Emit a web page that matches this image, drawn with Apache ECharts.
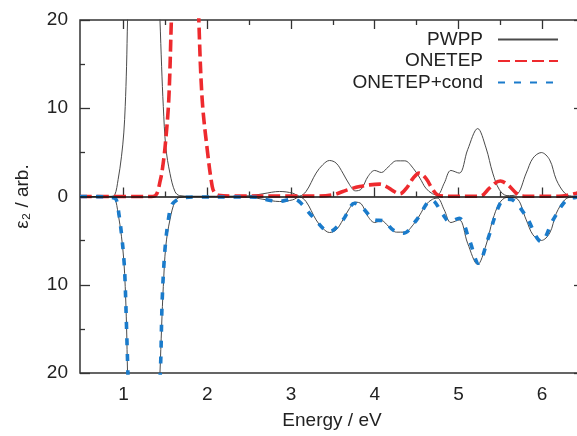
<!DOCTYPE html>
<html>
<head>
<meta charset="utf-8">
<script src="https://cdn.jsdelivr.net/npm/echarts@6/dist/echarts.min.js"></script>
<style>
html,body{margin:0;padding:0;background:#fff;}
#chart{width:577px;height:436px;}
</style>
</head>
<body>
<div id="chart"></div>
<script>
// ---- data ----
const seriesNames = ['PWPP', 'ONETEP', 'ONETEP+cond'];
const xMajorTicks = [1, 2, 3, 4, 5, 6];
const xMinorTicks = [1.5, 2.5, 3.5, 4.5, 5.5];
const yTickValues = [-20, -10, 0, 10, 20];

const pwppX = [0.48, 0.7, 0.85, 0.895, 0.935, 0.975, 1.003, 1.02, 1.036, 1.048, 1.08, 1.15, 1.24, 1.33, 1.40, 1.435, 1.455, 1.475, 1.505, 1.555, 1.615, 1.67, 1.8, 2.2, 2.5, 2.665, 2.864, 3.02, 3.10, 3.18, 3.30, 3.38, 3.46, 3.54, 3.62, 3.70, 3.77, 3.84, 3.92, 4.0, 4.08, 4.16, 4.26, 4.36, 4.46, 4.54, 4.61, 4.69, 4.75, 4.83, 4.91, 5.01, 5.11, 5.23, 5.33, 5.41, 5.49, 5.58, 5.69, 5.81, 5.89, 5.99, 6.09, 6.17, 6.27, 6.35, 6.5];
const pwppY = [0, 0, 0.02, 0.17, 1.9, 4.5, 7.2, 10.2, 14.7, 20, 30, 45, 50, 45, 28, 20, 14.7, 10.2, 5.6, 2.6, 0.55, 0.1, 0.03, 0.03, 0.08, 0.31, 0.57, 0.38, 0.05, 0.57, 2.65, 3.6, 4.08, 3.78, 2.65, 1.33, 0.64, 0.84, 2.27, 2.95, 2.72, 3.33, 4.04, 4.04, 3.2, 2.08, 0.95, 0.31, 0.19, 1.5, 2.95, 2.65, 5.3, 7.7, 5.5, 2.65, 0.76, 0.1, 0.19, 2.65, 4.34, 4.98, 4.15, 1.89, 0.38, 0.05, 0];

const onetepX = [0.48, 1.3, 1.38, 1.44, 1.47, 1.5, 1.54, 1.57, 1.61, 1.7, 1.8, 1.87, 1.9, 1.94, 2.0, 2.06, 2.09, 2.13, 2.3, 3.0, 3.3, 3.5, 3.62, 3.70, 3.82, 3.94, 4.06, 4.14, 4.22, 4.30, 4.38, 4.46, 4.53, 4.61, 4.69, 4.75, 4.89, 5.2, 5.28, 5.37, 5.5, 5.59, 5.69, 5.75, 5.9, 6.2, 6.33, 6.41, 6.5];
const onetepY = [0, 0, 0.1, 1.87, 3.5, 6.0, 10.9, 19.6, 32, 50, 50, 30, 19.8, 10.9, 5.3, 1.1, 0.4, 0.15, 0.05, 0.05, 0.05, 0.19, 0.57, 0.83, 1.13, 1.32, 1.4, 1.13, 0.64, 0.3, 0.95, 2.08, 2.65, 2.08, 0.83, 0.19, 0.02, 0.02, 0.1, 0.95, 1.75, 1.32, 0.38, 0.08, 0.02, 0.02, 0.19, 0.38, 0.6];

const condX = [0.48, 0.8, 0.88, 0.915, 0.945, 0.975, 1.005, 1.018, 1.038, 1.05, 1.08, 1.15, 1.24, 1.33, 1.40, 1.442, 1.462, 1.495, 1.535, 1.575, 1.635, 1.7, 1.9, 2.4, 2.6, 2.7, 2.86, 3.02, 3.10, 3.26, 3.46, 3.62, 3.76, 3.86, 4.0, 4.10, 4.22, 4.34, 4.50, 4.68, 4.82, 4.89, 5.01, 5.13, 5.24, 5.35, 5.45, 5.53, 5.59, 5.65, 5.81, 5.99, 6.13, 6.29, 6.4, 6.5];
const condY = [0, -0.05, -0.15, -0.4, -2.0, -4.2, -7.2, -9.5, -15.5, -19.3, -30, -45, -50, -45, -28, -19.3, -11.7, -6.0, -2.66, -0.96, -0.4, -0.15, -0.05, -0.05, -0.1, -0.35, -0.55, -0.3, -0.59, -2.3, -3.98, -2.66, -0.77, -1.34, -2.66, -2.74, -3.79, -4.17, -2.66, -0.4, -2.1, -2.85, -2.47, -4.9, -7.57, -4.9, -1.9, -0.4, -0.3, -0.4, -2.28, -5.1, -2.66, -0.4, -0.1, 0];

// ---- build ----
function zip(xs, ys) { return xs.map((x, i) => [x, ys[i]]); }
const pwppUpper = zip(pwppX, pwppY);
const pwppLower = zip(pwppX, pwppY.map(v => -v));
const onetep = zip(onetepX, onetepY);
const cond = zip(condX, condY);

const FONT = "'Liberation Sans', Arial, Helvetica, sans-serif";
const TXT = '#222';
const AX = '#333';
const X_MIN = 0.48, X_MAX = 6.5;

function xAx(pos, ticks, len, labels, extra) {
  return Object.assign({
    type: 'value', position: pos, min: X_MIN, max: X_MAX,
    axisLine: { show: false },
    splitLine: { show: false },
    axisTick: { show: true, inside: true, length: len, customValues: ticks, lineStyle: { color: AX, width: 1.3 } },
    axisLabel: labels ? { show: true, customValues: ticks, margin: 12, color: TXT, fontSize: 19, fontFamily: FONT } : { show: false }
  }, extra || {});
}
function yAx(pos, labels, extra) {
  return Object.assign({
    type: 'value', position: pos, min: -20, max: 20, interval: 10,
    axisLine: { show: false },
    splitLine: { show: false },
    axisTick: { show: true, inside: true, length: 10, lineStyle: { color: AX, width: 1.3 } },
    minorTick: { show: true, splitNumber: 2, length: 5, lineStyle: { color: AX, width: 1.3 } },
    axisLabel: labels ? { show: true, margin: 12, color: TXT, fontSize: 19, fontFamily: FONT,
      formatter: v => String(Math.abs(v)) } : { show: false }
  }, extra || {});
}

const chart = echarts.init(document.getElementById('chart'), null, { renderer: 'canvas' });
chart.setOption({
  animation: false,
  backgroundColor: '#fff',
  grid: { left: 80, top: 20, width: 504, height: 353, outerBoundsMode: 'none', containLabel: false,
          show: true, borderColor: AX, borderWidth: 1.5, backgroundColor: 'transparent' },
  legend: {
    data: seriesNames,
    orient: 'vertical', align: 'right',
    right: 13, top: 25,
    itemWidth: 60, itemHeight: 14, itemGap: 2.5,
    itemStyle: { opacity: 0 },
    textStyle: { fontSize: 19, lineHeight: 18, color: TXT, fontFamily: FONT, padding: [0, 10, 0, 0] }
  },
  xAxis: [
    xAx('bottom', xMajorTicks, 9, true, {
      name: 'Energy / eV', nameLocation: 'middle', nameGap: 38,
      nameTextStyle: { fontSize: 19, color: TXT, fontFamily: FONT }
    }),
    xAx('bottom', xMinorTicks, 5, false),
    xAx('top', xMajorTicks, 9, false),
    xAx('top', xMinorTicks, 5, false)
  ],
  yAxis: [
    yAx('left', true, {
      name: 'ε₂ / arb.', nameLocation: 'middle', nameGap: 48, nameRotate: 90,
      nameTextStyle: { fontSize: 19, color: TXT, fontFamily: FONT }
    }),
    yAx('right', false)
  ],
  series: [
    {
      name: 'PWPP', type: 'line', data: pwppUpper, xAxisIndex: 0, yAxisIndex: 0,
      symbol: 'none', smooth: 0.35, clip: true,
      lineStyle: { color: '#4a4a4a', width: 1 }, itemStyle: { color: '#4a4a4a' },
      markLine: {
        silent: true, symbol: ['none', 'none'], label: { show: false },
        lineStyle: { color: '#111', width: 1.5, type: 'solid' },
        data: [{ yAxis: 0 }]
      },
      z: 2
    },
    {
      name: 'PWPP', type: 'line', data: pwppLower, xAxisIndex: 0, yAxisIndex: 0,
      symbol: 'none', smooth: 0.35, clip: true,
      lineStyle: { color: '#4a4a4a', width: 1 }, itemStyle: { color: '#4a4a4a' }, z: 2
    },
    {
      name: 'ONETEP', type: 'line', data: onetep, xAxisIndex: 0, yAxisIndex: 0,
      symbol: 'none', smooth: 0.35, clip: true,
      lineStyle: { color: '#ee2a2e', width: 3.6, type: [12, 5] }, itemStyle: { color: '#ee2a2e' }, z: 3
    },
    {
      name: 'ONETEP+cond', type: 'line', data: cond, xAxisIndex: 0, yAxisIndex: 0,
      symbol: 'none', smooth: 0.35, clip: true,
      lineStyle: { color: '#1a7bcb', width: 3.6, type: [7, 9] }, itemStyle: { color: '#1a7bcb' }, z: 4
    }
  ]
});
</script>
</body>
</html>
